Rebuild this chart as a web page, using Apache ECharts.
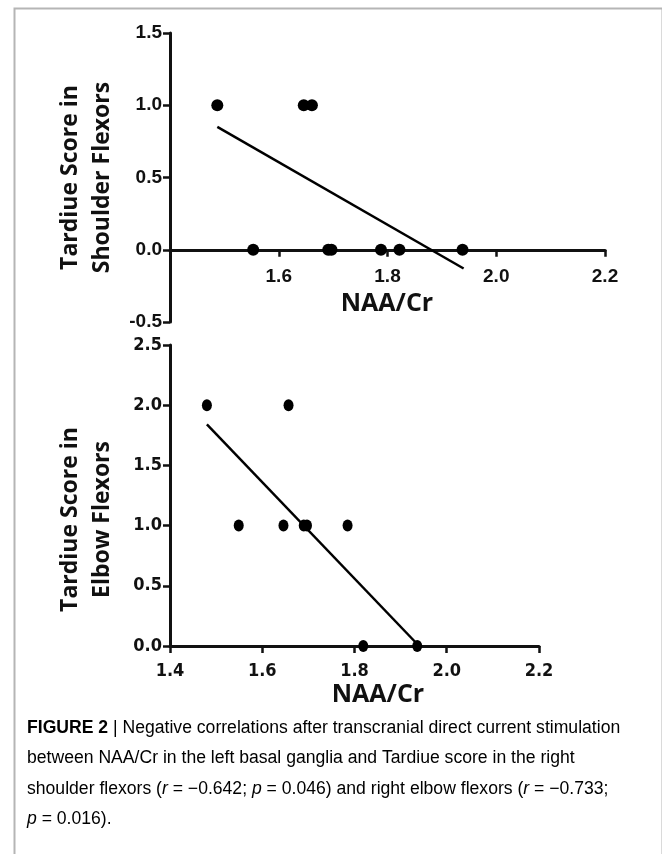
<!DOCTYPE html>
<html>
<head>
<meta charset="utf-8">
<script src="https://cdn.jsdelivr.net/npm/echarts@6/dist/echarts.min.js"></script>
<style>
  html, body { margin: 0; padding: 0; background: #fff; }
  #chart { width: 662px; height: 854px; }
</style>
</head>
<body>
<div id="chart"></div>
<script>
// shoulder flexors (top panel)
const shoulderNaa = [1.487, 1.646, 1.661, 1.553, 1.691, 1.697, 1.788, 1.822, 1.938];
const shoulderScore = [1, 1, 1, 0, 0, 0, 0, 0, 0];
const shoulderFitX = [1.487, 1.94];
const shoulderFitY = [0.85, -0.13];

// elbow flexors (bottom panel)
const elbowNaa = [1.48, 1.657, 1.549, 1.646, 1.69, 1.697, 1.785, 1.819, 1.936];
const elbowScore = [2, 2, 1, 1, 1, 1, 1, 0, 0];
const elbowFitX = [1.48, 1.94];
const elbowFitY = [1.84, 0.0];

const xTicks = [1.4, 1.6, 1.8, 2.0, 2.2];
const shoulderTicks = [-0.5, 0, 0.5, 1.0, 1.5];
const elbowTicks = [0, 0.5, 1.0, 1.5, 2.0, 2.5];

// caption, split in runs: [style, text]
const captionLines = [
  [['b', 'FIGURE 2'], ['n', ' | Negative correlations after transcranial direct current stimulation']],
  [['n', 'between NAA/Cr in the left basal ganglia and Tardiue score in the right']],
  [['n', 'shoulder flexors ('], ['i', 'r'], ['n', ' = \u22120.642; '], ['i', 'p'], ['n', ' = 0.046) and right elbow flexors ('], ['i', 'r'], ['n', ' = \u22120.733;']],
  [['i', 'p'], ['n', ' = 0.016).']]
];

const pair = (xs, ys) => xs.map((x, i) => [x, ys[i]]);

const ink = '#111';
const tickFont = { color: ink, fontFamily: 'Liberation Sans', fontWeight: 'bold', fontSize: 19 };
const narrowTick = Object.assign({}, tickFont, { fontFamily: 'DejaVu Sans Condensed, Liberation Sans', fontSize: 18 });
const titleFont = { color: ink, fontFamily: 'Open Sans', fontWeight: 'bold', fontSize: 23, lineHeight: 32 };

// offset lifts the top x axis up to y = 0 (onZero keeps the labels at the grid bottom in v6)
function xAxis(grid, hideFirst, labelFont, offset, margin) {
  return {
    type: 'value', gridIndex: grid,
    min: xTicks[0], max: xTicks[xTicks.length - 1], interval: 0.2,
    offset: offset,
    axisLine: { onZero: false, lineStyle: { color: ink, width: 3 } },
    axisTick: { length: 7, lineStyle: { color: ink, width: 2.5 } },
    axisLabel: Object.assign({}, labelFont, {
      margin: margin,
      formatter: v => (hideFirst && Math.abs(v - 1.4) < 1e-6) ? '' : v.toFixed(1)
    }),
    splitLine: { show: false }
  };
}

function yAxis(grid, ticks, title, pad, labelFont) {
  return {
    type: 'value', gridIndex: grid,
    min: ticks[0], max: ticks[ticks.length - 1], interval: 0.5,
    name: title, nameLocation: 'middle', nameRotate: 90, nameGap: 52,
    nameTextStyle: Object.assign({}, titleFont, { padding: pad }),
    axisLine: { onZero: false, lineStyle: { color: ink, width: 3 } },
    axisTick: { length: 7, lineStyle: { color: ink, width: 2.5 } },
    axisLabel: Object.assign({}, labelFont, { margin: 8, formatter: v => v.toFixed(1) }),
    splitLine: { show: false }
  };
}

const capRich = {
  b: { fontFamily: 'Liberation Sans', fontWeight: 'bold', fontSize: 17.6, color: '#333' },
  n: { fontFamily: 'Liberation Sans', fontSize: 17.6, color: '#444' },
  i: { fontFamily: 'Liberation Sans', fontStyle: 'italic', fontSize: 17.6, color: '#444' }
};

const captionGraphics = captionLines.map((ln, i) => ({
  type: 'text', left: 27, top: 719 + i * 30.5,
  style: {
    text: ln.map(r => '{' + r[0] + '|' + r[1] + '}').join(''),
    rich: capRich
  }
}));

const xTitle = (x, y) => ({
  type: 'text', x: x, y: y,
  style: { text: 'NAA/Cr', align: 'center', verticalAlign: 'middle', fill: ink,
    font: 'bold 25px "Open Sans"' }
});

const chart = echarts.init(document.getElementById('chart'));
chart.setOption({
  backgroundColor: '#fff',
  animation: false,
  grid: [
    { left: 170, right: 57, top: 33, height: 289 },
    { left: 170, right: 123, top: 345, height: 301 }
  ],
  xAxis: [xAxis(0, true, tickFont, -72.25, 18), xAxis(1, false, narrowTick, 0, 16)],
  yAxis: [
    yAxis(0, shoulderTicks, 'Tardiue Score in\nShoulder Flexors', [0, 0, 0, 0], tickFont),
    yAxis(1, elbowTicks, 'Tardiue Score in\nElbow Flexors', [0, 48, 0, 0], narrowTick)
  ],
  graphic: [
    { type: 'rect', left: 12, top: 6, shape: { width: 648, height: 860 },
      style: { fill: 'none', stroke: '#b5b5b5', lineWidth: 2 }, z: -1 },
    xTitle(387, 304),
    xTitle(378, 695)
  ].concat(captionGraphics),
  series: [
    { type: 'line', xAxisIndex: 0, yAxisIndex: 0, data: pair(shoulderFitX, shoulderFitY),
      symbol: 'none', lineStyle: { color: '#000', width: 2.5 }, z: 2 },
    { type: 'scatter', xAxisIndex: 0, yAxisIndex: 0, data: pair(shoulderNaa, shoulderScore),
      symbol: 'circle', symbolSize: 12, itemStyle: { color: '#000', opacity: 1 }, z: 3 },
    { type: 'line', xAxisIndex: 1, yAxisIndex: 1, data: pair(elbowFitX, elbowFitY),
      symbol: 'none', lineStyle: { color: '#000', width: 2.5 }, z: 2 },
    { type: 'scatter', xAxisIndex: 1, yAxisIndex: 1, data: pair(elbowNaa, elbowScore),
      symbol: 'circle', symbolSize: [10, 12], itemStyle: { color: '#000', opacity: 1 }, z: 3 }
  ]
});
</script>
</body>
</html>
